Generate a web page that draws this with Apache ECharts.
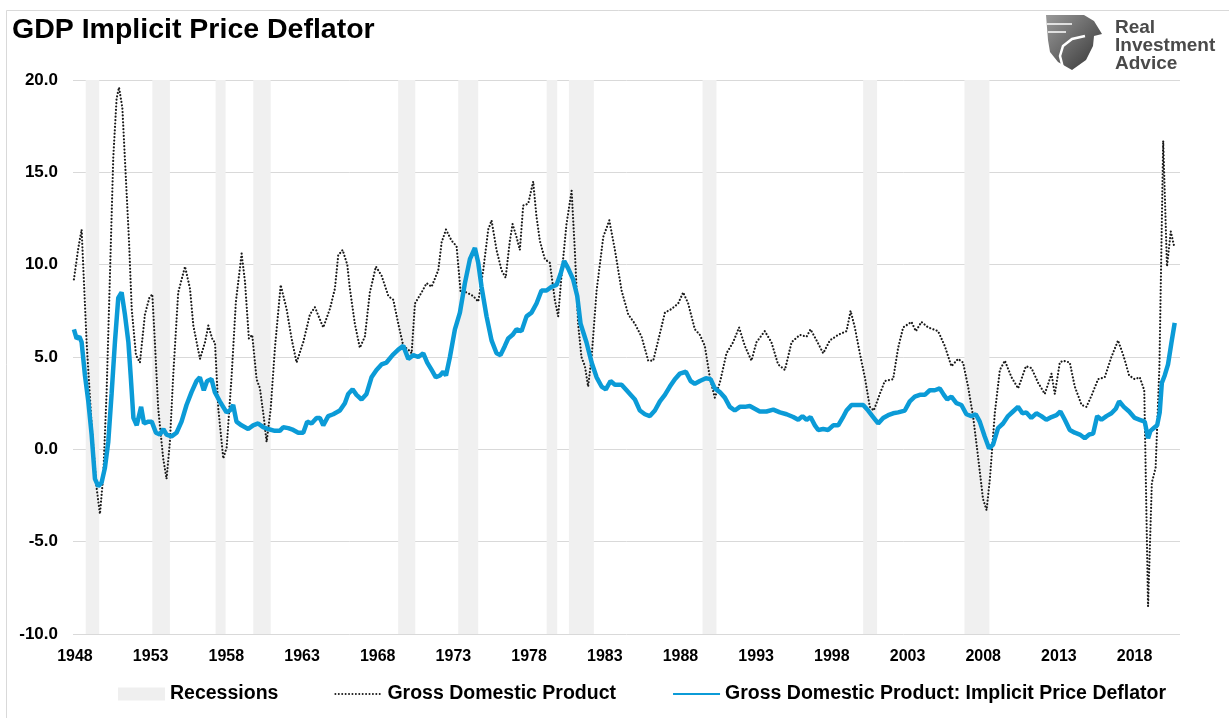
<!DOCTYPE html>
<html>
<head>
<meta charset="utf-8">
<title>GDP Implicit Price Deflator</title>
<script src="https://cdn.jsdelivr.net/npm/echarts@6/dist/echarts.min.js"></script>
<style>
  html, body { margin: 0; padding: 0; background: #fff; }
  #main { width: 1229px; height: 718px; }
</style>
</head>
<body>
<div id="main"></div>
<script>
// x values are positions on the chart's year axis (label = 1948, 1953, ...)
var tickYears = [1948, 1953, 1958, 1963, 1968, 1973, 1978, 1983, 1988, 1993, 1998, 2003, 2008, 2013, 2018];

var recessionStart = [1948.71, 1953.11, 1957.29, 1959.78, 1969.35, 1973.32, 1979.16, 1980.63, 1989.46, 2000.07, 2006.76];
var recessionEnd   = [1949.60, 1954.27, 1957.95, 1960.93, 1970.48, 1974.64, 1979.86, 1982.28, 1990.38, 2000.99, 2008.41];

// Gross Domestic Product, % change from year ago
var gdpYoY = [
  [1947.93, 9.2], [1948.22, 10.9], [1948.44, 11.9], [1948.77, 5.8], [1949.10, 1.3], [1949.43, -2.1],
  [1949.65, -3.5], [1949.87, -1.4], [1950.09, 3.1], [1950.31, 9.4], [1950.53, 15.8], [1950.75, 19.0],
  [1950.91, 19.6], [1951.13, 18.5], [1951.35, 14.9], [1951.57, 11.3], [1951.75, 7.6], [1952.03, 5.1],
  [1952.29, 4.7], [1952.62, 7.3], [1952.91, 8.2], [1953.11, 8.4], [1953.28, 5.8], [1953.50, 2.2],
  [1953.83, -0.5], [1954.05, -1.6], [1954.27, 0.4], [1954.49, 4.0], [1954.82, 8.5], [1955.27, 9.9],
  [1955.60, 8.7], [1955.82, 6.7], [1956.26, 4.9], [1956.59, 5.8], [1956.81, 6.7], [1957.10, 5.9],
  [1957.25, 5.8], [1957.47, 2.2], [1957.80, -0.5], [1958.02, 0.1], [1958.35, 4.0], [1958.63, 8.0],
  [1959.01, 10.6], [1959.23, 9.1], [1959.49, 6.0], [1959.71, 6.2], [1960.00, 3.8], [1960.22, 3.3],
  [1960.48, 1.7], [1960.66, 0.4], [1960.93, 2.2], [1961.21, 5.5], [1961.59, 8.9], [1961.98, 7.6],
  [1962.31, 6.0], [1962.64, 4.7], [1963.08, 5.8], [1963.52, 7.3], [1963.85, 7.7], [1964.40, 6.6],
  [1964.84, 7.6], [1965.17, 8.7], [1965.39, 10.5], [1965.68, 10.8], [1965.99, 10.0], [1966.16, 8.7],
  [1966.49, 6.8], [1966.82, 5.5], [1967.15, 6.1], [1967.48, 8.5], [1967.88, 9.9], [1968.26, 9.4],
  [1968.70, 8.3], [1969.03, 8.1], [1969.36, 6.8], [1969.69, 5.6], [1970.02, 5.4], [1970.24, 5.2],
  [1970.46, 7.9], [1970.90, 8.5], [1971.23, 9.0], [1971.56, 8.8], [1972.00, 9.7], [1972.22, 11.2],
  [1972.51, 11.9], [1972.88, 11.3], [1973.21, 11.0], [1973.48, 8.5], [1973.87, 8.5], [1974.31, 8.3],
  [1974.64, 8.0], [1974.97, 9.7], [1975.30, 11.9], [1975.52, 12.4], [1975.85, 10.8], [1976.18, 9.7],
  [1976.45, 9.3], [1976.73, 11.3], [1976.91, 12.2], [1977.17, 11.5], [1977.39, 10.8], [1977.61, 13.2],
  [1977.94, 13.3], [1978.27, 14.5], [1978.49, 12.6], [1978.71, 11.3], [1979.04, 10.3], [1979.37, 10.1],
  [1979.70, 8.1], [1979.92, 7.2], [1980.14, 9.4], [1980.47, 12.2], [1980.81, 14.0], [1981.02, 10.8],
  [1981.24, 6.8], [1981.46, 5.0], [1981.69, 4.5], [1981.90, 3.4], [1982.13, 5.0], [1982.46, 8.6],
  [1982.90, 11.5], [1983.30, 12.4], [1983.67, 10.8], [1984.11, 8.6], [1984.55, 7.3], [1984.99, 6.8],
  [1985.43, 6.1], [1985.87, 4.8], [1986.20, 4.8], [1986.53, 5.9], [1986.97, 7.4], [1987.41, 7.6],
  [1987.85, 7.9], [1988.18, 8.5], [1988.51, 7.9], [1988.95, 6.5], [1989.28, 6.2], [1989.61, 5.6],
  [1989.94, 3.9], [1990.27, 2.8], [1990.60, 3.6], [1991.04, 5.2], [1991.48, 5.8], [1991.87, 6.6],
  [1992.25, 5.6], [1992.69, 4.8], [1993.02, 5.8], [1993.57, 6.4], [1994.01, 5.8], [1994.45, 4.6],
  [1994.90, 4.3], [1995.34, 5.8], [1995.89, 6.2], [1996.33, 6.1], [1996.59, 6.5], [1996.99, 5.9],
  [1997.43, 5.2], [1997.87, 5.9], [1998.42, 6.2], [1998.97, 6.4], [1999.24, 7.5], [1999.52, 6.6],
  [1999.85, 5.2], [2000.18, 3.9], [2000.51, 2.3], [2000.77, 2.1], [2001.17, 3.0], [2001.50, 3.7],
  [2002.05, 3.8], [2002.38, 5.5], [2002.71, 6.6], [2003.26, 6.9], [2003.55, 6.4], [2003.92, 6.9],
  [2004.36, 6.6], [2005.02, 6.4], [2005.46, 5.6], [2005.90, 4.5], [2006.34, 4.9], [2006.67, 4.7],
  [2007.00, 3.4], [2007.33, 1.8], [2007.66, -0.4], [2007.99, -2.7], [2008.22, -3.3], [2008.44, -1.6],
  [2008.77, 2.0], [2009.10, 4.3], [2009.43, 4.8], [2009.87, 3.9], [2010.31, 3.3], [2010.82, 4.5],
  [2011.19, 4.4], [2011.63, 3.6], [2012.07, 3.0], [2012.51, 4.1], [2012.73, 3.0], [2013.06, 4.7],
  [2013.28, 4.8], [2013.72, 4.7], [2014.05, 3.4], [2014.50, 2.4], [2014.82, 2.3], [2015.15, 2.9],
  [2015.59, 3.8], [2016.03, 3.9], [2016.47, 5.0], [2016.91, 5.9], [2017.29, 5.0], [2017.64, 4.0],
  [2018.01, 3.8], [2018.34, 3.9], [2018.64, 3.2], [2018.89, -8.5], [2019.14, -1.8], [2019.39, -1.0],
  [2019.64, 4.5], [2019.89, 16.7], [2020.14, 9.9], [2020.39, 11.8], [2020.64, 10.9]
];

// Implicit Price Deflator, % change from year ago
var deflatorYoY = [
  [1947.93, 6.5], [1948.11, 6.0], [1948.29, 6.1], [1948.44, 5.8], [1948.66, 4.0], [1948.88, 2.6],
  [1949.10, 0.8], [1949.32, -1.6], [1949.54, -2.0], [1949.76, -1.8], [1949.98, -1.0], [1950.20, 0.4],
  [1950.42, 3.0], [1950.64, 5.8], [1950.86, 8.2], [1951.08, 8.5], [1951.30, 7.3], [1951.53, 5.8],
  [1951.68, 4.0], [1951.86, 1.7], [1952.08, 1.3], [1952.37, 2.3], [1952.56, 1.4], [1952.85, 1.5],
  [1953.07, 1.5], [1953.35, 0.9], [1953.61, 0.8], [1953.84, 1.1], [1954.05, 0.8], [1954.38, 0.7],
  [1954.71, 0.9], [1955.04, 1.5], [1955.37, 2.4], [1955.70, 3.1], [1956.03, 3.7], [1956.25, 3.9],
  [1956.51, 3.2], [1956.73, 3.7], [1957.02, 3.8], [1957.24, 3.1], [1957.57, 2.6], [1958.01, 2.0],
  [1958.23, 2.1], [1958.45, 2.4], [1958.67, 1.5], [1959.00, 1.3], [1959.44, 1.1], [1959.77, 1.3],
  [1960.10, 1.4], [1960.43, 1.2], [1960.76, 1.1], [1961.20, 1.0], [1961.53, 1.0], [1961.76, 1.2],
  [1962.09, 1.15], [1962.42, 1.05], [1962.75, 0.9], [1963.08, 0.9], [1963.34, 1.5], [1963.63, 1.4],
  [1963.96, 1.7], [1964.18, 1.7], [1964.40, 1.3], [1964.73, 1.8], [1965.06, 1.9], [1965.50, 2.1],
  [1965.83, 2.5], [1966.05, 3.0], [1966.34, 3.25], [1966.60, 2.95], [1966.93, 2.7], [1967.26, 3.0],
  [1967.59, 3.9], [1967.92, 4.3], [1968.25, 4.6], [1968.58, 4.7], [1968.98, 5.1], [1969.36, 5.4],
  [1969.69, 5.6], [1970.02, 4.9], [1970.35, 5.1], [1970.68, 5.0], [1971.01, 5.2], [1971.27, 4.7],
  [1971.56, 4.3], [1971.84, 3.9], [1972.11, 4.0], [1972.33, 4.2], [1972.51, 4.0], [1972.77, 5.0],
  [1973.10, 6.5], [1973.43, 7.4], [1973.76, 9.0], [1974.09, 10.3], [1974.42, 10.9], [1974.64, 10.1],
  [1974.86, 8.8], [1975.19, 7.2], [1975.52, 5.9], [1975.85, 5.2], [1976.11, 5.1], [1976.40, 5.6],
  [1976.62, 6.0], [1976.91, 6.2], [1977.17, 6.5], [1977.50, 6.4], [1977.83, 7.2], [1978.16, 7.4],
  [1978.49, 7.9], [1978.82, 8.6], [1979.15, 8.6], [1979.48, 8.8], [1979.81, 8.9], [1980.08, 9.5],
  [1980.32, 10.2], [1980.58, 9.8], [1980.91, 9.2], [1981.18, 8.3], [1981.40, 6.8], [1981.79, 5.8],
  [1982.13, 4.7], [1982.46, 3.9], [1982.79, 3.4], [1983.07, 3.25], [1983.38, 3.7], [1983.67, 3.5],
  [1984.11, 3.5], [1984.44, 3.2], [1984.66, 3.0], [1984.99, 2.7], [1985.32, 2.1], [1985.65, 1.9],
  [1985.98, 1.8], [1986.31, 2.1], [1986.64, 2.6], [1986.97, 2.95], [1987.30, 3.4], [1987.63, 3.8],
  [1987.96, 4.1], [1988.36, 4.2], [1988.67, 3.7], [1988.95, 3.55], [1989.28, 3.7], [1989.68, 3.85],
  [1989.99, 3.8], [1990.27, 3.3], [1990.60, 3.1], [1990.93, 2.8], [1991.26, 2.3], [1991.59, 2.1],
  [1991.92, 2.3], [1992.25, 2.3], [1992.58, 2.35], [1992.91, 2.2], [1993.24, 2.05], [1993.68, 2.05],
  [1994.13, 2.15], [1994.57, 2.0], [1995.01, 1.9], [1995.45, 1.75], [1995.78, 1.6], [1996.06, 1.8],
  [1996.33, 1.6], [1996.59, 1.75], [1996.88, 1.3], [1997.10, 1.05], [1997.43, 1.1], [1997.76, 1.05],
  [1998.09, 1.3], [1998.42, 1.3], [1998.71, 1.7], [1998.97, 2.1], [1999.30, 2.4], [1999.63, 2.4],
  [2000.07, 2.4], [2000.40, 2.1], [2000.73, 1.75], [2001.06, 1.4], [2001.39, 1.7], [2001.72, 1.85],
  [2002.05, 1.95], [2002.38, 2.0], [2002.82, 2.1], [2003.15, 2.6], [2003.48, 2.85], [2003.81, 2.95],
  [2004.14, 2.95], [2004.47, 3.2], [2004.80, 3.2], [2005.13, 3.3], [2005.40, 2.95], [2005.62, 2.7],
  [2005.90, 2.85], [2006.23, 2.5], [2006.56, 2.4], [2006.89, 1.9], [2007.22, 1.8], [2007.51, 1.9],
  [2007.77, 1.5], [2008.10, 0.7], [2008.39, 0.05], [2008.65, 0.25], [2008.98, 1.15], [2009.31, 1.4],
  [2009.64, 1.8], [2009.97, 2.05], [2010.30, 2.3], [2010.59, 1.95], [2010.85, 2.0], [2011.18, 1.7],
  [2011.51, 1.95], [2011.84, 1.8], [2012.17, 1.6], [2012.51, 1.75], [2012.84, 1.85], [2013.10, 2.05],
  [2013.39, 1.6], [2013.72, 1.05], [2014.05, 0.9], [2014.38, 0.8], [2014.71, 0.6], [2015.00, 0.8],
  [2015.26, 0.85], [2015.53, 1.8], [2015.81, 1.6], [2016.14, 1.8], [2016.47, 1.95], [2016.76, 2.2],
  [2016.98, 2.6], [2017.29, 2.3], [2017.64, 2.05], [2018.01, 1.7], [2018.34, 1.6], [2018.67, 1.5],
  [2018.89, 0.6], [2019.05, 1.0], [2019.27, 1.15], [2019.49, 1.3], [2019.66, 2.0], [2019.80, 3.6],
  [2019.99, 4.0], [2020.21, 4.6], [2020.43, 5.75], [2020.65, 6.85]
];

(function () {
  var chartDom = document.getElementById('main');
  var myChart = echarts.init(chartDom);
  var font = "'Liberation Sans', Arial, sans-serif";

  var recessionAreas = [];
  for (var i = 0; i < recessionStart.length; i++) {
    recessionAreas.push([{ xAxis: recessionStart[i] }, { xAxis: recessionEnd[i] }]);
  }

  var option = {
    backgroundColor: '#fff',
    animation: false,
    title: {
      text: 'GDP Implicit Price Deflator',
      left: 7,
      top: 11,
      textStyle: { fontFamily: font, fontSize: 28.5, fontWeight: 'bold', color: '#000' }
    },
    grid: {
      left: 73,
      right: 49,
      top: 80,
      bottom: 84,
      outerBoundsMode: 'none'
    },
    legend: {
      left: 113,
      top: 679,
      itemWidth: 47,
      itemHeight: 13,
      itemGap: 56,
      textStyle: { fontFamily: font, fontSize: 19.5, fontWeight: 'bold', color: '#000' },
      data: [
        { name: 'Recessions', icon: 'rect', itemStyle: { color: '#efefef' } },
        { name: 'Gross Domestic Product', itemStyle: { opacity: 0 } },
        { name: 'Gross Domestic Product: Implicit Price Deflator', itemStyle: { opacity: 0 } }
      ]
    },
    xAxis: {
      type: 'value',
      min: 1947.87,
      max: 2021.0,
      splitLine: { show: false },
      axisLine: { show: false, onZero: false },
      axisTick: { show: false },
      axisLabel: {
        customValues: tickYears,
        margin: 15,
        fontFamily: font,
        fontSize: 16,
        fontWeight: 'bold',
        color: '#000',
        formatter: function (v) { return String(v); }
      }
    },
    yAxis: {
      type: 'value',
      min: -10,
      max: 20,
      interval: 5,
      axisLine: { show: false },
      axisTick: { show: false },
      splitLine: { lineStyle: { color: '#d9d9d9', width: 1 } },
      axisLabel: {
        margin: 15,
        fontFamily: font,
        fontSize: 17,
        fontWeight: 'bold',
        color: '#000',
        formatter: function (v) { return v.toFixed(1); }
      }
    },
    graphic: [
      {
        type: 'rect',
        silent: true,
        z: -10,
        shape: { x: 6.5, y: 10.5, width: 1240, height: 720 },
        style: { fill: 'none', stroke: '#d9d9d9', lineWidth: 1 }
      },
      {
        type: 'polygon',
        silent: true,
        shape: {
          points: [[1046, 15], [1084, 15], [1094, 21], [1102, 34], [1094, 36], [1093, 46],
                   [1086, 60], [1072, 70], [1058, 62], [1050, 52], [1048, 40]]
        },
        style: {
          fill: new echarts.graphic.LinearGradient(0, 0, 1, 1, [
            { offset: 0, color: '#9a9a9a' },
            { offset: 1, color: '#333' }
          ])
        }
      },
      {
        type: 'polyline',
        silent: true,
        shape: { points: [[1063, 68], [1060, 56], [1063, 46], [1072, 39], [1085, 36]] },
        style: { fill: 'none', stroke: '#fff', lineWidth: 2.5 }
      },
      {
        type: 'polyline',
        silent: true,
        shape: { points: [[1047, 24], [1072, 24]] },
        style: { fill: 'none', stroke: '#fff', lineWidth: 1.5 }
      },
      {
        type: 'polyline',
        silent: true,
        shape: { points: [[1048, 32], [1066, 32]] },
        style: { fill: 'none', stroke: '#fff', lineWidth: 1.5 }
      },
      {
        type: 'text',
        silent: true,
        left: 1115,
        top: 18,
        style: {
          text: 'Real\nInvestment\nAdvice',
          font: 'bold 19px ' + font,
          lineHeight: 18,
          fill: '#4a4a4a'
        }
      }
    ],
    series: [
      {
        name: 'Recessions',
        type: 'line',
        data: [],
        symbol: 'none',
        itemStyle: { color: '#efefef' },
        markArea: {
          silent: true,
          itemStyle: { color: '#f0f0f0' },
          data: recessionAreas
        }
      },
      {
        name: 'Gross Domestic Product',
        type: 'line',
        data: gdpYoY,
        symbol: 'none',
        itemStyle: { color: '#1a1a1a' },
        lineStyle: { color: '#1a1a1a', width: 2.2, type: [0.01, 3.4], cap: 'round' },
        z: 3
      },
      {
        name: 'Gross Domestic Product: Implicit Price Deflator',
        type: 'line',
        data: deflatorYoY,
        symbol: 'none',
        itemStyle: { color: '#0b9bd7' },
        lineStyle: { color: '#0b9bd7', width: 4.5 },
        z: 4
      }
    ]
  };

  option && myChart.setOption(option);

  window.addEventListener('resize', function () {
    myChart.resize();
  });
})();
</script>
</body>
</html>
